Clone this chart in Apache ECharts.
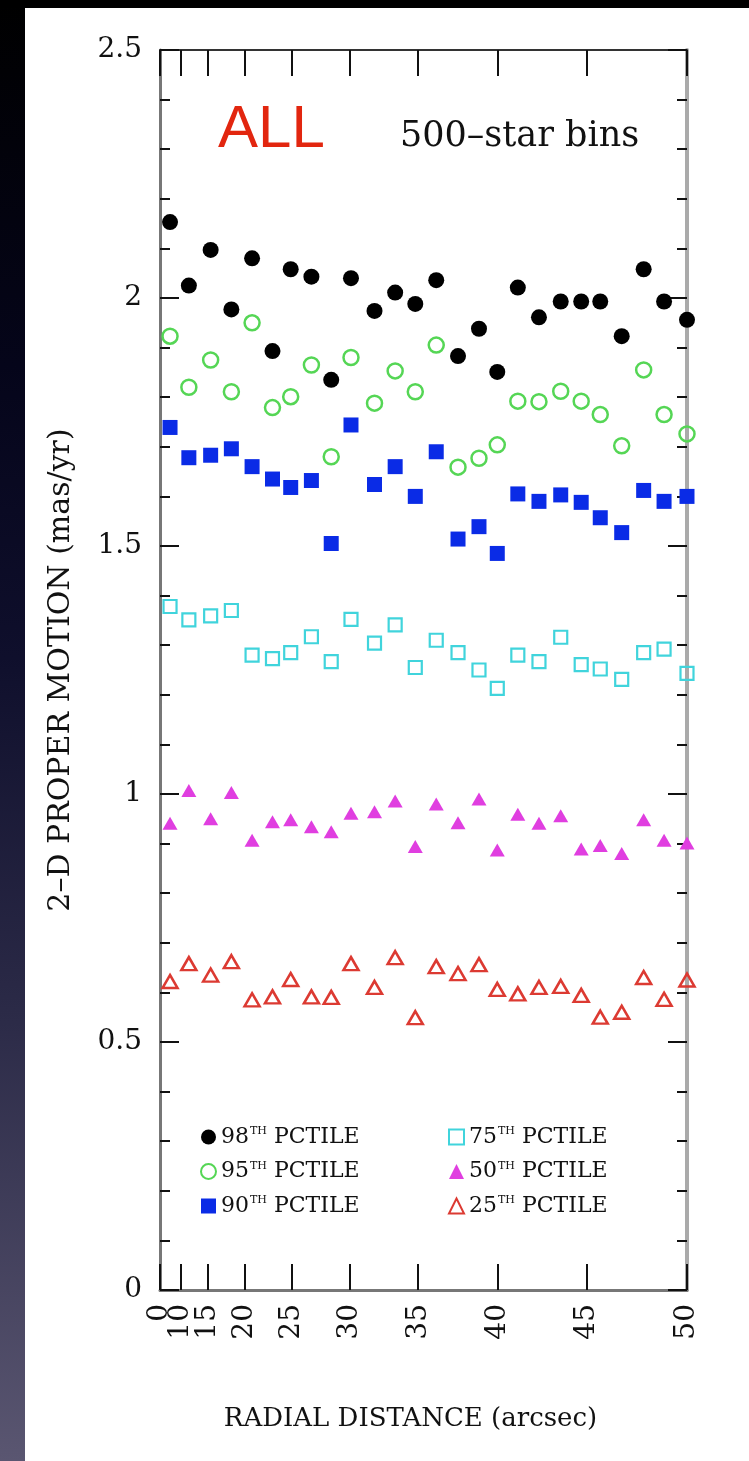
<!DOCTYPE html>
<html>
<head>
<meta charset="utf-8">
<script src="https://cdn.jsdelivr.net/npm/echarts@6/dist/echarts.min.js"></script>
<style>
  html, body { margin: 0; padding: 0; width: 749px; height: 1461px; overflow: hidden; }
  body { background: linear-gradient(to bottom, #000000 0%, #05051a 25%, #0f0f2c 45%, #2c2b48 70%, #5a5671 100%); position: relative; }
  #topband { position: absolute; left: 0; top: 0; width: 749px; height: 8px; background: #000; }
  #panel { position: absolute; left: 25px; top: 8px; width: 724px; height: 1453px; background: #fff; }
  #chart { position: absolute; left: 0; top: 0; width: 749px; height: 1461px; }
</style>
</head>
<body>
<div id="topband"></div>
<div id="panel"></div>
<div id="chart"></div>
<script>
// Radial distance of each 500-star bin (arcsec)
const radii = [6.9, 11.7, 15.5, 18.4, 20.9, 23.1, 24.9, 26.8, 28.5, 30.1, 31.9, 33.4, 34.8,
               36.2, 37.6, 38.9, 40.0, 41.2, 42.4, 43.6, 44.7, 45.7, 46.8, 47.9, 48.9, 50.0];

// 2-D proper motion percentiles (mas/yr)
const p98 = [2.153, 2.025, 2.097, 1.977, 2.080, 1.893, 2.058, 2.043, 1.835, 2.040, 1.974, 2.011, 1.988,
             2.036, 1.883, 1.938, 1.851, 2.021, 1.961, 1.993, 1.993, 1.993, 1.923, 2.058, 1.993, 1.956];
const p95 = [1.923, 1.820, 1.875, 1.811, 1.950, 1.779, 1.801, 1.865, 1.680, 1.880, 1.788, 1.853, 1.811,
             1.905, 1.659, 1.677, 1.704, 1.792, 1.791, 1.812, 1.792, 1.765, 1.702, 1.855, 1.765, 1.726];
const p90 = [1.739, 1.678, 1.683, 1.696, 1.660, 1.635, 1.618, 1.632, 1.505, 1.744, 1.624, 1.660, 1.600,
             1.690, 1.514, 1.539, 1.485, 1.605, 1.590, 1.603, 1.588, 1.557, 1.527, 1.612, 1.590, 1.600];
const p75 = [1.378, 1.351, 1.359, 1.370, 1.280, 1.273, 1.285, 1.317, 1.267, 1.352, 1.304, 1.341, 1.255,
             1.310, 1.285, 1.250, 1.213, 1.280, 1.267, 1.316, 1.261, 1.252, 1.231, 1.285, 1.292, 1.243];
const p50 = [0.941, 1.007, 0.950, 1.003, 0.907, 0.944, 0.948, 0.934, 0.924, 0.961, 0.964, 0.986, 0.894,
             0.980, 0.942, 0.990, 0.887, 0.959, 0.941, 0.956, 0.889, 0.896, 0.880, 0.948, 0.907, 0.901];
const p25 = [0.622, 0.658, 0.635, 0.662, 0.585, 0.591, 0.626, 0.591, 0.590, 0.658, 0.610, 0.670, 0.549,
             0.652, 0.638, 0.656, 0.606, 0.597, 0.610, 0.612, 0.594, 0.550, 0.560, 0.630, 0.586, 0.625];

// Tick labels of the radial axis (arcsec); the axis is linear in radius squared
const xTickLabels = [0, 10, 15, 20, 25, 30, 35, 40, 45, 50];

const seriesNames = ['98TH PCTILE', '95TH PCTILE', '90TH PCTILE', '75TH PCTILE', '50TH PCTILE', '25TH PCTILE'];

const toArea = r => r * r;
const xTickPos = xTickLabels.map(toArea);
const pts = vals => radii.map((r, i) => [toArea(r), vals[i]]);

const FONT = 'DejaVu Serif';
const INK = '#111';

const chart = echarts.init(document.getElementById('chart'));

const xLabelStyle = {
  rotate: 90, margin: 14,
  formatter: v => String(Math.round(Math.sqrt(v))),
  fontFamily: FONT, fontSize: 28, color: INK
};
// Bottom label-only axes: "0" and "10" overlap as in the original, so each gets its own axis
const labelOnlyX = vals => ({
  type: 'value', min: 0, max: 2500, position: 'bottom',
  splitLine: { show: false },
  axisLine: { show: false, onZero: false },
  axisTick: { show: false },
  axisLabel: Object.assign({ show: true, customValues: vals, showMinLabel: true, showMaxLabel: true }, xLabelStyle)
});

const legendFormatter = name => '{n|' + name.slice(0, 2) + '}{s|TH}{p| PCTILE}';
const legendRich = {
  n: { fontFamily: FONT, fontSize: 22, color: INK, lineHeight: 24 },
  s: { fontFamily: FONT, fontSize: 11, color: INK, lineHeight: 24, padding: [0, 0, 11, 1] },
  p: { fontFamily: FONT, fontSize: 22, color: INK, lineHeight: 24 }
};

const yTick = () => ({ show: true, inside: true, length: 19, lineStyle: { color: INK, width: 2 } });
const yMinor = () => ({ show: true, splitNumber: 5, length: 10, lineStyle: { color: INK, width: 2 } });

const option = {
  animation: false,
  grid: { left: 160, right: 62, top: 50, bottom: 171 },
  xAxis: [
    {
      type: 'value', min: 0, max: 2500, position: 'bottom',
      splitLine: { show: false },
      name: 'RADIAL DISTANCE (arcsec)',
      nameLocation: 'middle',
      nameGap: 116,
      nameTextStyle: { fontFamily: FONT, fontSize: 26, color: INK, padding: [0, 26, 0, 0] },
      axisLine: { show: true, onZero: false, lineStyle: { color: '#777', width: 3 } },
      axisTick: { show: true, inside: true, length: 26, customValues: xTickPos, lineStyle: { color: INK, width: 2 } },
      axisLabel: Object.assign({ show: true, customValues: xTickPos.slice(2) }, xLabelStyle)
    },
    {
      type: 'value', min: 0, max: 2500, position: 'top',
      splitLine: { show: false },
      axisLine: { show: true, onZero: false, lineStyle: { color: '#333', width: 2 } },
      axisTick: { show: true, inside: true, length: 26, customValues: xTickPos, lineStyle: { color: INK, width: 2 } },
      axisLabel: { show: false }
    },
    labelOnlyX(xTickPos.slice(0, 1)),
    labelOnlyX(xTickPos.slice(1, 2))
  ],
  yAxis: [
    {
      type: 'value', min: 0, max: 2.5, interval: 0.5, position: 'left',
      splitLine: { show: false },
      name: '2\u2013D PROPER MOTION (mas/yr)',
      nameLocation: 'middle',
      nameGap: 84,
      nameRotate: 90,
      nameTextStyle: { fontFamily: FONT, fontSize: 30, color: INK },
      axisLine: { show: true, onZero: false, lineStyle: { color: '#777', width: 3 } },
      axisTick: yTick(),
      minorTick: yMinor(),
      axisLabel: { show: true, margin: 18, fontFamily: FONT, fontSize: 28, color: INK }
    },
    {
      type: 'value', min: 0, max: 2.5, interval: 0.5, position: 'right',
      splitLine: { show: false },
      axisLine: { show: true, onZero: false, lineStyle: { color: '#aaa', width: 4 } },
      axisTick: yTick(),
      minorTick: yMinor(),
      axisLabel: { show: false }
    }
  ],
  legend: [
    {
      data: seriesNames.slice(0, 3),
      orient: 'vertical', left: 195, top: 1121, itemGap: 12.5,
      itemWidth: 15, itemHeight: 15,
      formatter: legendFormatter,
      textStyle: { rich: legendRich }
    },
    {
      data: seriesNames.slice(3, 6),
      orient: 'vertical', left: 443, top: 1121, itemGap: 12.5,
      itemWidth: 15, itemHeight: 15,
      formatter: legendFormatter,
      textStyle: { rich: legendRich }
    }
  ],
  graphic: [
    {
      type: 'text', left: 218, top: 100,
      style: { text: 'ALL', fontFamily: 'Liberation Sans', fontSize: 60, fill: '#e2260f' }
    },
    {
      type: 'text', left: 400, top: 119,
      style: { text: '500\u2013star bins', fontFamily: FONT, fontSize: 35, fill: INK }
    }
  ],
  series: [
    {
      name: seriesNames[0], type: 'scatter', clip: false, data: pts(p98),
      symbol: 'circle', symbolSize: 16,
      itemStyle: { color: '#000', opacity: 1 }
    },
    {
      name: seriesNames[1], type: 'scatter', clip: false, data: pts(p95),
      symbol: 'circle', symbolSize: 15,
      itemStyle: { color: 'rgba(255,255,255,0)', borderColor: '#55d655', borderWidth: 2.5, opacity: 1 }
    },
    {
      name: seriesNames[2], type: 'scatter', clip: false, data: pts(p90),
      symbol: 'rect', symbolSize: 15,
      itemStyle: { color: '#0a2be6', opacity: 1 }
    },
    {
      name: seriesNames[3], type: 'scatter', clip: false, data: pts(p75),
      symbol: 'rect', symbolSize: 13,
      itemStyle: { color: 'rgba(255,255,255,0)', borderColor: '#40d4dc', borderWidth: 2.2, opacity: 1 }
    },
    {
      name: seriesNames[4], type: 'scatter', clip: false, data: pts(p50),
      symbol: 'triangle', symbolSize: [15, 13],
      itemStyle: { color: '#e03ee0', opacity: 1 }
    },
    {
      name: seriesNames[5], type: 'scatter', clip: false, data: pts(p25),
      symbol: 'triangle', symbolSize: [15, 13],
      itemStyle: { color: 'rgba(255,255,255,0)', borderColor: '#dc3a32', borderWidth: 2.5, opacity: 1 }
    }
  ]
};

chart.setOption(option);
</script>
</body>
</html>
